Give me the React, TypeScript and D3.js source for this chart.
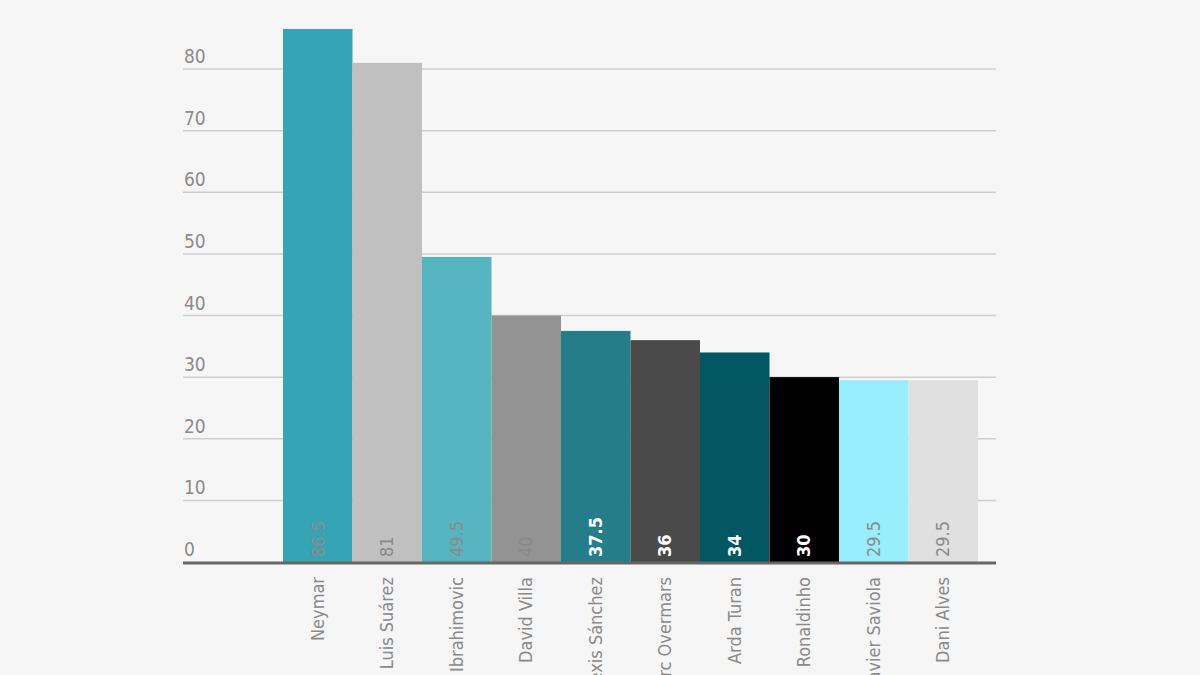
import React from "react";
import * as d3 from "d3";

const players = ["Neymar", "Luis Suárez", "Zlatan Ibrahimovic", "David Villa", "Alexis Sánchez", "Marc Overmars", "Arda Turan", "Ronaldinho", "Javier Saviola", "Dani Alves"];
const values = [86.5, 81, 49.5, 40, 37.5, 36, 34, 30, 29.5, 29.5];
const barColors = ["#35a5b5", "#c0c0c0", "#57b5c2", "#939393", "#247d88", "#4a4a4a", "#025763", "#000000", "#98eefc", "#e0e0e0"];
const valueLabelColors = ["#8a8a8a", "#8a8a8a", "#8a8a8a", "#8a8a8a", "#ffffff", "#ffffff", "#ffffff", "#ffffff", "#8a8a8a", "#8a8a8a"];
const valueLabelBold = [false, false, false, false, true, true, true, true, false, false];
const yTicks = [0, 10, 20, 30, 40, 50, 60, 70, 80];

const W = 1200, H = 675;
const FONT = "'Liberation Sans Narrow', 'DejaVu Sans Condensed', 'Open Sans', sans-serif";

export default function App() {
  const x = d3.scaleBand<string>().domain(players).range([283, 978]).padding(0);
  const y = d3.scaleLinear().domain([0, 80]).range([562, 69]);
  const gridX0 = 183, gridX1 = 996;

  return (
    <div style={{ position: "fixed", left: 0, top: 0 }}>
      <svg width={W} height={H} style={{ display: "block", background: "#f6f6f6" }}>
        <rect x={0} y={0} width={W} height={H} fill="#f6f6f6" />
        {yTicks.map((t) => (
          <g key={t}>
            {t > 0 && <line x1={gridX0} x2={gridX1} y1={y(t)} y2={y(t)} stroke="#cfcfcf" strokeWidth={1.5} />}
            <text x={184} y={y(t) - 6} fontFamily={FONT} fontSize={19} fill="#8c8c8c">{t}</text>
          </g>
        ))}
        {players.map((p, i) => (
          <rect key={p} x={x(p)!} y={y(values[i])} width={x.bandwidth()} height={y(0) - y(values[i])} fill={barColors[i]} />
        ))}
        <line x1={gridX0} x2={gridX1} y1={y(0) + 1} y2={y(0) + 1} stroke="#666666" strokeWidth={3} />
        {players.map((p, i) => {
          const cx = x(p)! + x.bandwidth() / 2;
          return (
            <g key={p + "-l"}>
              <text
                transform={`translate(${cx + 6},${557}) rotate(-90)`}
                fontFamily={FONT}
                fontSize={18}
                fontWeight={valueLabelBold[i] ? "bold" : "normal"}
                fill={valueLabelColors[i]}
              >
                {values[i]}
              </text>
              <text
                transform={`translate(${cx + 6},${577}) rotate(-90)`}
                textAnchor="end"
                fontFamily={FONT}
                fontSize={18}
                fill="#8a8a8a"
              >
                {p}
              </text>
            </g>
          );
        })}
      </svg>
    </div>
  );
}
